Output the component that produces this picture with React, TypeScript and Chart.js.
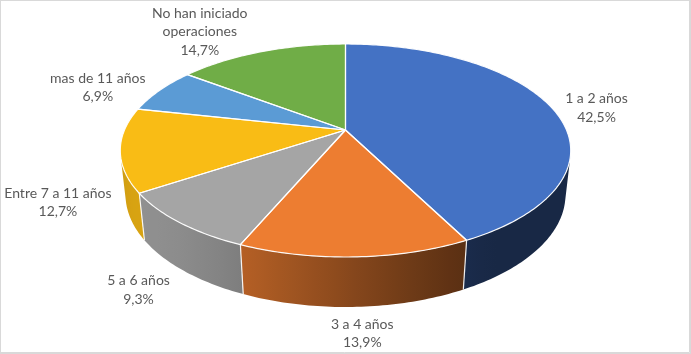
import React, { useEffect, useRef } from "react";
import { Chart, registerables } from "chart.js";

Chart.register(...registerables);

// ---- data ----
const categories = [
  "1 a 2 años",
  "3 a 4 años",
  "5 a 6 años",
  "Entre 7 a 11 años",
  "mas de 11 años",
  "No han iniciado operaciones",
];
const shares = [42.5, 13.9, 9.3, 12.7, 6.9, 14.7];
const sliceColors = ["#4472C4", "#ED7D31", "#A5A5A5", "#F9BC15", "#5B9BD5", "#70AD47"];

// ---- style / view constants ----
const W = 691;
const H = 354;
const VIEW = { spread: 1.7, sinTilt: 0.464, persp: 0.2173, thickness: 0.227 };
const LABEL = { font: "14px Lato", color: "#595959", lineHeight: 18.5, gap: 14, gapV: 8, wrap: 125 };

function pct(v: number) {
  return v.toFixed(1).replace(".", ",") + "%";
}
function hexRgb(h: string) {
  const n = parseInt(h.slice(1), 16);
  return [(n >> 16) & 255, (n >> 8) & 255, n & 255];
}
function shadeFactor(th: number) {
  const dot = -0.8 * Math.sin(th) - 0.6 * Math.cos(th);
  return 0.35 + 0.52 * Math.pow(Math.max(0, dot), 1.6);
}

function makeView(arc: any) {
  const { x, y, outerRadius } = arc.getProps(["x", "y", "outerRadius"], true);
  const s = VIEW.sinTilt;
  const c = Math.sqrt(1 - s * s);
  const r = VIEW.persp;
  const K = outerRadius * VIEW.spread;
  const t = VIEW.thickness;
  const proj = (th: number, rho: number, z: number) => {
    const X = rho * Math.sin(th);
    const Y = -rho * Math.cos(th);
    const D = 1 - r * Y * c - r * z * s;
    return { x: x + (K * X) / D, y: y + (K * (Y * s - z * c)) / D };
  };
  const vis0 = Math.acos(Math.max(-1, -r / c));
  return { proj, t, vis0, vis1: 2 * Math.PI - vis0 };
}

function arcAngles(arc: any) {
  const { startAngle, endAngle } = arc.getProps(["startAngle", "endAngle"], true);
  return [startAngle + Math.PI / 2, endAngle + Math.PI / 2];
}

function wrapText(ctx: CanvasRenderingContext2D, text: string, maxW: number) {
  const words = text.split(" ");
  const lines: string[] = [];
  let cur = "";
  for (const w of words) {
    const test = cur ? cur + " " + w : w;
    if (cur && ctx.measureText(test).width > maxW) {
      lines.push(cur);
      cur = w;
    } else cur = test;
  }
  if (cur) lines.push(cur);
  return lines;
}

const pie3d = {
  id: "pie3d",
  beforeDatasetsDraw(chart: any) {
    const meta = chart.getDatasetMeta(0);
    const arcs = meta.data;
    if (!arcs.length) return false;
    const ctx: CanvasRenderingContext2D = chart.ctx;
    const v = makeView(arcs[0]);
    const { proj, t } = v;
    ctx.save();

    // side walls
    arcs.forEach((arc: any, i: number) => {
      const [a0, a1] = arcAngles(arc);
      const s0 = Math.max(a0, v.vis0);
      const s1 = Math.min(a1, v.vis1);
      if (s1 - s0 < 1e-3) return;
      const N = Math.max(8, Math.ceil((s1 - s0) * 60));
      ctx.beginPath();
      for (let k = 0; k <= N; k++) {
        const p = proj(s0 + ((s1 - s0) * k) / N, 1, 0);
        if (k === 0) ctx.moveTo(p.x, p.y);
        else ctx.lineTo(p.x, p.y);
      }
      for (let k = N; k >= 0; k--) {
        const p = proj(s0 + ((s1 - s0) * k) / N, 1, -t);
        ctx.lineTo(p.x, p.y);
      }
      ctx.closePath();
      const pa = proj(s0, 1, 0);
      const pb = proj(s1, 1, 0);
      const rgb = hexRgb(arc.options.backgroundColor || sliceColors[i]);
      const g = ctx.createLinearGradient(pa.x, 0, pb.x, 0);
      const M = 12;
      for (let j = 0; j <= M; j++) {
        const th = s0 + ((s1 - s0) * j) / M;
        const px = proj(th, 1, 0).x;
        let pos = (px - pa.x) / (pb.x - pa.x || 1);
        pos = Math.min(1, Math.max(0, pos));
        const f = shadeFactor(th);
        g.addColorStop(pos, `rgb(${Math.round(rgb[0] * f)},${Math.round(rgb[1] * f)},${Math.round(rgb[2] * f)})`);
      }
      ctx.fillStyle = g;
      ctx.fill();
    });

    // separators on side walls
    ctx.strokeStyle = "rgba(255,255,255,0.9)";
    ctx.lineWidth = 1.2;
    arcs.forEach((arc: any) => {
      const [a0] = arcAngles(arc);
      const th = a0 % (2 * Math.PI);
      if (th > v.vis0 && th < v.vis1) {
        const p = proj(th, 1, 0);
        const q = proj(th, 1, -t);
        ctx.beginPath();
        ctx.moveTo(p.x, p.y);
        ctx.lineTo(q.x, q.y);
        ctx.stroke();
      }
    });

    // top faces
    const c0 = proj(0, 0, 0);
    const paths: Path2D[] = [];
    arcs.forEach((arc: any, i: number) => {
      const [a0, a1] = arcAngles(arc);
      const N = Math.max(8, Math.ceil((a1 - a0) * 60));
      const path = new Path2D();
      path.moveTo(c0.x, c0.y);
      for (let k = 0; k <= N; k++) {
        const p = proj(a0 + ((a1 - a0) * k) / N, 1, 0);
        path.lineTo(p.x, p.y);
      }
      path.closePath();
      ctx.fillStyle = arc.options.backgroundColor || sliceColors[i];
      ctx.fill(path);
      paths.push(path);
    });
    ctx.strokeStyle = "rgba(255,255,255,0.95)";
    ctx.lineWidth = 1.2;
    ctx.lineJoin = "round";
    paths.forEach((p) => ctx.stroke(p));
    ctx.restore();
    return false;
  },
  afterDraw(chart: any) {
    const meta = chart.getDatasetMeta(0);
    const arcs = meta.data;
    const ctx: CanvasRenderingContext2D = chart.ctx;
    ctx.save();
    if (arcs.length) {
      const v = makeView(arcs[0]);
      ctx.font = LABEL.font;
      ctx.fillStyle = LABEL.color;
      ctx.textAlign = "center";
      ctx.textBaseline = "middle";
      const labels = chart.data.labels as string[];
      const values = chart.data.datasets[0].data as number[];
      arcs.forEach((arc: any, i: number) => {
        const [a0, a1] = arcAngles(arc);
        const mid = (a0 + a1) / 2;
        const sn = Math.sin(mid);
        const cs = Math.cos(mid);
        const P = v.proj(mid, 1, cs >= 0 ? 0 : -v.t);
        const lines = [...wrapText(ctx, labels[i], LABEL.wrap), pct(values[i])];
        const w = Math.max(...lines.map((l) => ctx.measureText(l).width));
        const h = lines.length * LABEL.lineHeight;
        let lx: number, ly: number;
        if (Math.abs(sn) > 0.3) {
          lx = P.x + Math.sign(sn) * (w / 2 + LABEL.gap);
          ly = P.y - (cs * h) / 2 + 5;
        } else {
          lx = P.x + sn * (w / 2 + LABEL.gap) + 6;
          ly = P.y - Math.sign(cs) * (h / 2 + LABEL.gapV);
        }
        lines.forEach((l, k) => {
          ctx.fillText(l, lx, ly - h / 2 + LABEL.lineHeight * (k + 0.5));
        });
      });
    }
    // chart border
    ctx.strokeStyle = "#d9d9d9";
    ctx.lineWidth = 1;
    ctx.strokeRect(0.5, 0.5, W - 1, H - 1);
    ctx.beginPath();
    ctx.moveTo(W - 1.5, 0);
    ctx.lineTo(W - 1.5, H - 1.5);
    ctx.lineTo(0, H - 1.5);
    ctx.stroke();
    ctx.restore();
  },
};

export default function App() {
  const ref = useRef<HTMLCanvasElement>(null);
  useEffect(() => {
    const canvas = ref.current;
    if (!canvas) return;
    const chart = new Chart(canvas, {
      type: "pie",
      data: {
        labels: categories,
        datasets: [{ data: shares, backgroundColor: sliceColors, borderWidth: 0 }],
      },
      options: {
        responsive: false,
        animation: false,
        events: [],
        layout: { padding: { top: 0, bottom: 94, left: 0, right: 0 } },
        plugins: { legend: { display: false }, tooltip: { enabled: false } },
      },
      plugins: [pie3d as any],
    });
    return () => chart.destroy();
  }, []);
  return (
    <div style={{ position: "absolute", left: 0, top: 0, width: W, height: H, background: "#fff" }}>
      <canvas ref={ref} width={W} height={H} style={{ display: "block" }} />
    </div>
  );
}
